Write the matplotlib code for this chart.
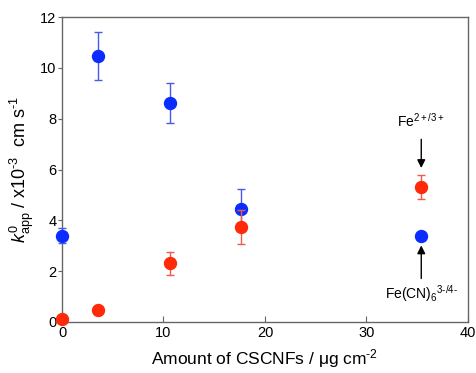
import matplotlib
matplotlib.use("Agg")
import matplotlib.pyplot as plt

plt.rcParams['font.family'] = ['Liberation Sans', 'DejaVu Sans']
plt.rcParams['mathtext.fontset'] = 'custom'
plt.rcParams['mathtext.rm'] = 'Liberation Sans'
plt.rcParams['mathtext.it'] = 'Liberation Sans:italic'

amount = [0, 3.5, 10.6, 17.6, 35.4]
blue_k = [3.39, 10.48, 8.62, 4.45, 3.39]
blue_err = [0.3, 0.95, 0.78, 0.77, 0.12]
red_k = [0.12, 0.46, 2.31, 3.74, 5.31]
red_err = [0.0, 0.0, 0.45, 0.66, 0.47]

blue = '#0a2cff'
red = '#ff2a0a'

fig = plt.figure(figsize=(4.77, 3.73), dpi=100)
ax = fig.add_axes([0.130, 0.137, 0.851, 0.817])

ax.errorbar(amount, blue_k, yerr=blue_err, fmt='o', color=blue, ecolor='#4a5ae8',
            elinewidth=1.0, capsize=3, capthick=1.0, markersize=8.6, clip_on=False, zorder=3)
ax.errorbar(amount, red_k, yerr=red_err, fmt='o', color=red, ecolor='#f05a4a',
            elinewidth=1.0, capsize=3, capthick=1.0, markersize=8.6, clip_on=False, zorder=4)

ax.set_xlim(0, 40)
ax.set_ylim(0, 12)
ax.set_xticks([0, 10, 20, 30, 40])
ax.set_yticks([0, 2, 4, 6, 8, 10, 12])
for s in ax.spines.values():
    s.set_color('#666666')
    s.set_linewidth(1.0)
ax.tick_params(axis='x', direction='in', length=4, color='#666666', labelsize=10.5, pad=3)
ax.tick_params(axis='y', direction='out', length=3, color='#666666', labelsize=10.5, pad=1)

ax.set_xlabel('Amount of CSCNFs / μg cm$^{\u20102}$', fontsize=12.5, labelpad=5)
ax.set_ylabel('$k^{0}_{\\mathrm{app}}$ / x10$^{\u20103}$  cm s$^{\u20101}$', fontsize=13, labelpad=3)

ax.annotate('', xy=(35.4, 5.95), xytext=(35.4, 7.3),
            arrowprops=dict(arrowstyle='-|>', color='black', lw=1.0, mutation_scale=12))
ax.text(35.4, 7.55, 'Fe$^{2+/3+}$', ha='center', va='bottom', fontsize=10)
ax.annotate('', xy=(35.4, 3.12), xytext=(35.4, 1.6),
            arrowprops=dict(arrowstyle='-|>', color='black', lw=1.0, mutation_scale=12))
ax.text(35.4, 1.12, 'Fe(CN)$_6$$^{3\u2010/4\u2010}$', ha='center', va='center', fontsize=10)

fig.savefig('out.png', dpi=100)
